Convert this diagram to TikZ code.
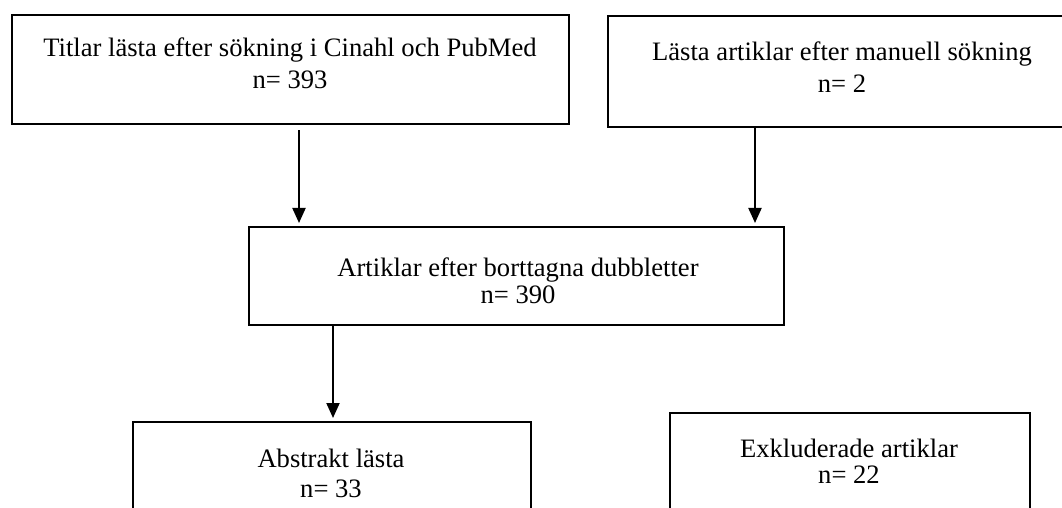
\documentclass[tikz,border=0pt]{standalone}
\usepackage{fontspec}
\setmainfont{Liberation Serif}
\usetikzlibrary{arrows.meta}
\begin{document}
\begin{tikzpicture}[x=0.5pt,y=-0.5pt,
  box/.style={draw=black, line width=1.2pt, inner sep=0pt, anchor=north west},
  txt/.style={anchor=base, inner sep=0pt, font=\fontsize{13.3}{16}\selectfont},
  arr/.style={line width=1pt, -{Triangle[length=7.5pt,width=6.5pt]}}]
\useasboundingbox (0,0) rectangle (1062,508);
\fill[white] (0,0) rectangle (1062,508);
% boxes
\node[box, minimum width=278.5pt, minimum height=54.5pt] (b1) at (11,14) {};
\node[box, minimum width=235pt, minimum height=55.5pt] (b2) at (607,15) {};
\node[box, minimum width=267.5pt, minimum height=49pt] (b3) at (248,226) {};
\node[box, minimum width=199pt, minimum height=70pt] (b4) at (132,421) {};
\node[box, minimum width=180pt, minimum height=74pt] (b5) at (669,412) {};
% texts
\node[txt] (t1a) at (290,57) {Titlar lästa efter sökning i Cinahl och PubMed};
\node[txt] (t1b) at (290,89) {n= 393};
\node[txt] (t2a) at (842,61) {Lästa artiklar efter manuell sökning};
\node[txt] (t2b) at (842,93) {n= 2};
\node[txt] (t3a) at (518,277) {Artiklar efter borttagna dubbletter};
\node[txt] (t3b) at (518,304) {n= 390};
\node[txt] (t4a) at (331,467) {Abstrakt lästa};
\node[txt] (t4b) at (331,497) {n= 33};
\node[txt] (t5a) at (849,457) {Exkluderade artiklar};
\node[txt] (t5b) at (849,483) {n= 22};
% arrows
\coordinate (x1) at (299,0);
\coordinate (x2) at (755,0);
\coordinate (x3) at (333,0);
\draw[arr, shorten <=2.5pt, shorten >=1.5pt] (b1.south -| x1) -- (b3.north -| x1);
\draw[arr, shorten >=1.5pt] (b2.south -| x2) -- (b3.north -| x2);
\draw[arr, shorten >=1.5pt] (b3.south -| x3) -- (b4.north -| x3);
\end{tikzpicture}
\end{document}
